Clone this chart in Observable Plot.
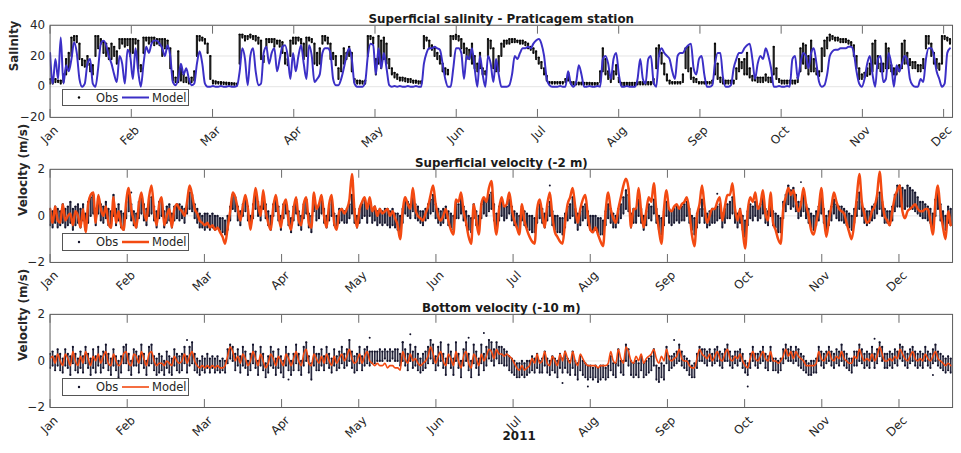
<!DOCTYPE html>
<html><head><meta charset="utf-8">
<script src="https://cdn.jsdelivr.net/npm/d3@7"></script>
<script src="https://cdn.jsdelivr.net/npm/@observablehq/plot@0.6"></script>
<style>
html,body{margin:0;padding:0;background:#fff;overflow:hidden}
#wrap{position:relative;width:961px;height:453px;overflow:hidden;background:#fff;font-family:"DejaVu Sans",sans-serif}
.panel{position:absolute;left:0}
.legend{position:absolute;left:62px;width:127px;background:#fff;border:1px solid #555;box-sizing:border-box}
</style></head><body><div id="wrap"></div>
<script>
const months = ["Jan","Feb","Mar","Apr","May","Jun","Jul","Aug","Sep","Oct","Nov","Dec"];
const monthLen = 30.42;
const titles = ["Superficial salinity - Praticagem station","Superficial velocity (-2 m)","Bottom velocity (-10 m)"];
const yLabels = ["Salinity","Velocity (m/s)","Velocity (m/s)"];
const salTicks = [40,20,0,-20];
const velTicks = [2,0,-2];

// Salinity, daily, model
const salModel = [
22,2,18,5,32,2,14,10,18,29, 22,5,0,2,15,18,2,0,12,28, 30,27,20,15,8,3,20,15,2,24, 20,5,25,10,0,15,26,22,28,30,
30,28,25,20,27,20,3,1,5,15, 8,12,5,1,2,15,23,15,2,0, 0,0.5,0,0,0.5,0,0,0.5,0,0, 0.5,10,25,18,1,20,25,10,1,2,
22,26,15,22,25,10,18,26,27,20, 5,22,10,20,27,15,5,27,20,3, 5,8,22,25,25,22,5,1,1,5, 12,20,25,18,2,0,0,0,3,20,
28,27,8,25,12,22,12,1,0,0.5, 0,0.5,0,0,0.5,0,0,0.5,0,0, 15,22,25,25,26,25,24,15,5,0, 0,12,25,25,22,5,20,18,25,12,
0,20,8,0,20,15,3,18,8,0, 0,0,1,8,20,18,22,25,25,26, 25,28,30,31,28,20,5,1,0,0, 0,0.5,0,0,10,2,0,3,14,8,
0,0,0.5,0,0,0.5,0,18,20,15, 5,18,22,8,0,0,0.5,0,0,0, 5,18,5,2,18,20,3,0,20,25, 22,20,18,10,5,20,22,22,25,27,
28,12,8,18,20,8,0,0,1,15, 22,22,6,0,0,1,12,18,22,22, 25,27,28,18,5,15,20,18,25,20, 12,0,0,0.5,0,0,0.5,0,18,20,
5,15,22,20,12,22,25,15,3,0, 1,8,20,23,24,24,25,25,25,26, 26,22,10,2,0,5,15,20,8,0, 18,20,3,5,22,15,0,14,10,15,
20,18,5,1,0,0,5,3,18,25, 25,20,10,5,0,2,22,25];
// Salinity, daily observed range [low, high]
const salObs = [
[2,5],[2,4],[3,5],[3,4],[2,4],[3,8],[8,18],[12,22],[20,32],[30,33],
[29,33],[18,28],[14,18],[13,17],[14,20],[10,15],[8,14],[20,33],[25,33],[28,31],
[22,29],[20,28],[18,25],[18,28],[20,26],[15,23],[25,31],[28,31],[26,31],[27,31],
[20,31],[22,31],[28,31],[12,30],[10,14],[22,32],[30,32],[28,32],[29,32],[27,32],
[28,31],[27,31],[20,31],[25,31],[25,30],[12,25],[4,10],[3,6],[3,23],[4,12],
[3,8],[3,6],[2,5],[3,6],[4,10],[20,33],[30,33],[30,32],[28,31],[22,28],
[5,20],[2,4],[2,3.5],[2,3],[1.8,3],[1.7,2.8],[1.5,2.6],[1.5,2.5],[1.3,2.4],[1.2,2.2],
[1,2],[15,34],[32,34],[30,33],[31,33],[32,34],[31,33],[30,33],[28,32],[18,30],
[16,20],[25,31],[29,31],[29,31],[26,31],[28,30],[26,30],[22,29],[15,22],[14,18],
[20,30],[28,32],[28,32],[30,32],[28,31],[18,28],[20,32],[30,32],[29,31],[15,28],
[14,22],[15,25],[28,33],[30,33],[28,32],[18,28],[18,22],[14,20],[5,12],[10,20],
[15,25],[18,22],[20,26],[10,22],[3,5],[2,4],[2,4],[2,3.5],[2,4],[20,33],
[31,33],[28,32],[8,18],[15,33],[12,30],[18,32],[15,28],[12,18],[8,12],[6,9],
[5,8],[4,6],[4,6],[3.5,5.5],[3,5],[3,5],[2.5,4],[2.5,4],[2,3.5],[2,3.5],
[25,33],[30,32],[25,30],[24,27],[20,25],[18,22],[15,20],[10,15],[8,12],[8,11],
[20,33],[31,33],[31,34],[30,33],[25,31],[22,28],[18,25],[18,24],[15,28],[12,20],
[10,15],[12,22],[8,12],[8,10],[20,31],[25,30],[12,25],[10,15],[10,20],[20,28],
[26,30],[28,30],[28,31],[29,31],[29,31],[29,30],[28,30],[28,30],[27,29],[25,28],
[24,26],[22,25],[18,23],[15,19],[12,16],[8,12],[4,7],[2,3],[2,3],[2,3],
[2,3],[2,3],[2,3],[3,5],[4,9],[2,3],[1.5,3],[1.5,2.8],[1.5,2.6],[1.5,2.6],
[1.5,2.5],[1.4,2.5],[1.4,2.5],[1.3,2.4],[1.3,2.4],[1.3,2.4],[3,10],[10,25],[8,18],[5,10],
[3,6],[5,10],[8,14],[3,6],[1,2.5],[1,2.5],[1,2.5],[1,2.5],[1,2.5],[1,2.5],
[1.5,3],[1.5,3],[1.5,3],[1.5,3],[1.5,3],[1.5,3],[2,5],[12,25],[20,27],[15,22],
[8,15],[4,8],[2,4],[2,3],[2,3],[2,3],[2,3],[3,8],[12,25],[10,26],
[5,12],[3,6],[3,5],[2,3],[2,3],[2,3],[2,3],[2,3],[2,4],[8,28],
[5,15],[3,6],[2,5],[2,4],[2,4],[2,4],[2,4],[5,12],[10,18],[12,16],
[8,18],[8,22],[6,12],[4,7],[4,6],[3,6],[3,6],[3,6],[4,8],[3,6],
[3,6],[8,26],[5,12],[3,5],[2,4],[2,4],[2,4],[2,4],[2,4],[2,4],
[3,6],[10,25],[15,28],[12,27],[8,20],[10,30],[10,18],[8,12],[7,10],[10,25],
[20,30],[25,32],[30,34],[31,33],[30,32],[30,32],[29,31],[29,31],[29,31],[28,30],
[27,29],[20,27],[12,20],[5,12],[5,8],[6,9],[7,12],[8,15],[10,28],[15,30],
[12,20],[10,15],[10,15],[12,28],[12,25],[10,14],[8,12],[8,12],[10,14],[12,28],
[15,30],[15,22],[14,18],[12,16],[12,16],[10,14],[10,14],[12,18],[25,33],[28,33],
[20,28],[15,22],[12,18],[11,15],[15,33],[31,33],[30,32],[28,31]];

// Surface velocity (-2 m), daily, model
const surfModel = [
0.3,-0.3,0.4,-0.2,-0.3,0.5,-0.2,0.0,0.1,-0.4, 0.2,0.0,-0.5,0.3,-0.7,0.5,0.9,1.0,-0.3,0.9,
0.3,0.0,0.4,-0.3,-0.5,0.8,-0.3,0.2,-0.4,-0.6, 0.6,1.2,0.3,-0.2,-0.5,0.5,1.0,0.2,-0.2,0.8,
1.3,0.2,-0.4,0.5,0.8,-0.4,0.0,0.3,-0.5,0.3, 0.5,0.3,0.2,0.0,0.6,1.3,0.9,0.3,0.1,-0.2,
-0.3,-0.4,-0.3,-0.5,-0.4,-0.6,-0.5,-0.7,-0.9,-1.2, -0.5,0.2,1.0,0.8,0.3,-0.2,0.4,0.9,0.3,-0.6,
0.3,1.2,0.5,0.0,1.1,0.2,-0.3,-0.6,0.4,0.9, 0.1,-0.5,0.4,0.7,-0.2,-0.6,0.3,0.8,-0.2,-0.4,
0.5,0.8,-0.3,-0.5,1.0,0.3,0.5,0.9,0.0,-0.5, 0.5,0.9,-0.3,-0.6,0.2,0.3,0.1,0.3,0.7,1.8,
0.2,-0.5,0.3,0.6,0.8,0.3,0.8,0.2,0.4,0.0, 0.3,0.1,0.2,0.3,0.0,0.2,-0.1,-0.4,-1.0,0.2,
0.8,0.5,0.3,1.2,0.3,0.0,-0.1,-0.2,0.1,0.4, 0.9,1.3,0.5,0.0,-0.2,0.0,0.3,-0.2,-0.6,-0.8,
0.7,0.6,1.0,0.2,-0.3,-0.9,-1.2,0.5,-0.2,-0.8, 0.5,0.8,0.6,1.2,1.5,0.0,-0.8,0.3,0.8,0.4,
0.5,1.0,0.3,-0.2,-0.5,-0.8,0.5,-0.2,-0.6,-0.9, -1.1,-1.2,0.3,0.7,0.1,-0.5,0.5,1.0,0.0,-0.7,
-0.9,-1.1,-1.2,-0.3,0.5,0.8,1.2,0.4,-0.3,0.3, 0.7,0.9,0.0,-0.6,-0.7,-0.5,-0.8,-1.1,-1.3,0.2,
1.0,0.3,-0.1,-0.3,0.3,0.8,1.3,1.6,1.2,-0.5, 0.3,0.3,1.2,0.2,-0.5,0.2,0.8,0.6,1.4,0.2,
-0.6,-1.2,0.3,1.1,0.3,0.2,0.4,0.5,0.3,0.5, 0.6,0.8,0.2,-0.8,-1.3,0.0,0.5,1.3,0.4,-0.3,
0.0,0.3,0.3,0.6,0.8,-0.2,0.4,0.9,0.9,1.4, 0.3,-0.2,0.3,-0.6,-1.4,0.2,0.8,0.6,1.0,0.3,
0.5,1.1,0.1,-0.2,1.0,-0.3,-0.6,-1.0,-1.2,0.3, 0.8,1.2,0.9,1.1,0.6,0.2,0.5,1.2,0.5,0.0,
-0.6,-0.8,-0.3,0.3,1.2,0.0,-0.9,-0.2,0.4,1.0, 0.6,0.3,0.2,0.1,-0.3,-0.7,-1.0,-0.3,0.8,1.8,
0.6,0.1,-0.3,-0.2,0.2,0.4,0.9,1.9,0.7,0.0, -0.2,-0.4,0.2,0.8,1.1,1.3,0.2,-0.1,0.2,0.3,
0.4,0.5,0.3,0.2,0.2,0.3,0.3,-0.2,-0.8,0.6, 1.3,0.2,-0.5,-1.0,0.2,-0.4];
// Surface velocity, daily observed range [low, high]
const surfObs = [
[-0.4,0.3],[-0.5,0.2],[-0.3,0.4],[-0.5,0.3],[-0.4,0.2],[-0.3,0.5],[-0.5,0.3],[-0.4,0.4],[-0.3,0.6],[-0.6,0.3],
[-0.4,0.4],[-0.3,0.5],[-0.5,0.3],[-0.2,0.5],[-0.6,0.1],[-0.3,0.6],[0.0,0.8],[0.1,0.9],[-0.4,0.3],[0.1,0.8],
[-0.2,0.5],[-0.3,0.4],[-0.1,0.6],[-0.4,0.3],[-0.5,0.2],[0.0,0.9],[-0.4,0.3],[-0.2,0.5],[-0.5,0.2],[-0.6,0.1],
[-0.1,0.6],[0.2,0.9],[-0.2,0.5],[-0.4,0.2],[-0.5,0.1],[-0.1,0.6],[0.1,0.8],[-0.2,0.5],[-0.4,0.3],[0.0,0.7],
[0.1,0.8],[-0.2,0.4],[-0.5,0.2],[-0.1,0.6],[0.0,0.7],[-0.5,0.2],[-0.3,0.4],[-0.2,0.5],[-0.5,0.1],[-0.2,0.4],
[-0.1,0.5],[-0.2,0.5],[-0.1,0.4],[-0.3,0.3],[0.1,0.6],[0.3,1.0],[0.2,0.9],[-0.1,0.5],[-0.3,0.3],[-0.5,0.1],
[-0.5,0.0],[-0.6,0.1],[-0.5,0.1],[-0.6,0.0],[-0.5,0.1],[-0.6,0.0],[-0.5,0.0],[-0.6,-0.1],[-0.7,-0.1],[-0.8,-0.2],
[-0.6,0.0],[-0.2,0.4],[0.3,0.9],[0.2,0.8],[-0.2,0.4],[-0.4,0.2],[0.0,0.5],[0.2,0.8],[-0.2,0.4],[-0.5,0.0],
[-0.1,0.5],[0.3,1.0],[0.0,0.6],[-0.2,0.4],[0.3,0.9],[-0.1,0.5],[-0.4,0.2],[-0.6,0.0],[0.0,0.5],[0.2,0.8],
[-0.2,0.4],[-0.6,0.0],[-0.1,0.5],[0.1,0.6],[-0.4,0.2],[-0.7,-0.1],[-0.2,0.4],[0.1,0.7],[-0.4,0.2],[-0.6,0.0],
[-0.1,0.5],[0.1,0.7],[-0.5,0.1],[-0.7,0.0],[0.2,0.8],[-0.2,0.4],[-0.1,0.5],[0.1,0.8],[-0.3,0.3],[-0.5,0.0],
[-0.2,0.5],[0.0,0.7],[-0.4,0.1],[-0.5,0.0],[-0.3,0.3],[-0.2,0.3],[-0.3,0.2],[-0.3,0.3],[-0.1,0.5],[0.1,0.9],
[-0.3,0.3],[-0.5,0.0],[-0.3,0.3],[-0.1,0.5],[0.0,0.7],[-0.3,0.3],[0.0,0.6],[-0.3,0.2],[-0.2,0.4],[-0.4,0.2],
[-0.3,0.3],[-0.4,0.2],[-0.3,0.3],[-0.4,0.3],[-0.5,0.2],[-0.4,0.3],[-0.5,0.1],[-0.6,0.1],[-0.7,0.0],[-0.3,0.3],
[0.1,0.7],[0.0,0.6],[-0.1,0.5],[0.2,0.9],[-0.1,0.5],[-0.2,0.4],[-0.3,0.2],[-0.4,0.2],[-0.2,0.3],[-0.1,0.5],
[0.1,0.7],[0.2,0.9],[-0.1,0.5],[-0.3,0.3],[-0.4,0.2],[-0.3,0.3],[-0.1,0.4],[-0.4,0.2],[-0.5,0.1],[-0.6,0.0],
[-0.1,0.6],[-0.1,0.5],[0.1,0.8],[-0.2,0.4],[-0.4,0.2],[-0.6,0.0],[-0.7,-0.1],[-0.1,0.5],[-0.4,0.2],[-0.6,0.0],
[-0.1,0.5],[0.1,0.7],[0.0,0.6],[0.2,0.9],[0.3,1.0],[-0.2,0.5],[-0.5,0.1],[-0.2,0.4],[0.0,0.6],[-0.2,0.4],
[-0.1,0.4],[0.1,0.7],[-0.2,0.4],[-0.4,0.2],[-0.5,0.1],[-0.6,0.0],[-0.2,0.4],[-0.4,0.2],[-0.5,0.1],[-0.6,0.0],
[-0.7,0.0],[-0.7,-0.1],[-0.3,0.3],[-0.1,0.5],[-0.3,0.3],[-0.5,0.1],[-0.2,0.4],[0.0,0.6],[-0.4,0.2],[-0.6,0.0],
[-0.7,0.0],[-0.7,-0.1],[-0.8,-0.1],[-0.5,0.1],[-0.2,0.4],[-0.1,0.5],[0.0,0.8],[-0.3,0.3],[-0.6,0.1],[-0.4,0.2],
[-0.2,0.4],[-0.1,0.5],[-0.4,0.2],[-0.6,0.0],[-0.7,0.0],[-0.6,0.0],[-0.7,-0.1],[-0.8,-0.1],[-0.8,-0.2],[-0.4,0.2],
[-0.1,0.5],[-0.3,0.3],[-0.5,0.1],[-0.5,0.0],[-0.3,0.3],[-0.1,0.5],[0.1,0.8],[0.3,1.1],[0.2,0.9],[-0.5,0.1],
[-0.3,0.3],[-0.3,0.3],[0.0,0.7],[-0.3,0.3],[-0.6,0.0],[-0.4,0.2],[-0.1,0.5],[-0.2,0.4],[0.1,0.7],[-0.3,0.3],
[-0.6,0.0],[-0.8,-0.1],[-0.4,0.2],[0.0,0.6],[-0.3,0.3],[-0.4,0.2],[-0.3,0.3],[-0.2,0.4],[-0.3,0.3],[-0.2,0.4],
[-0.2,0.5],[0.0,0.6],[-0.3,0.3],[-0.6,0.0],[-0.8,-0.1],[-0.5,0.1],[-0.3,0.3],[0.0,0.7],[-0.3,0.3],[-0.5,0.1],
[-0.4,0.2],[-0.3,0.3],[-0.3,0.3],[-0.2,0.4],[-0.1,0.5],[-0.5,0.1],[-0.3,0.3],[-0.1,0.5],[-0.1,0.6],[0.1,0.8],
[-0.3,0.3],[-0.5,0.1],[-0.3,0.3],[-0.6,0.0],[-0.9,-0.2],[-0.4,0.2],[-0.1,0.5],[-0.2,0.4],[0.0,0.6],[-0.2,0.4],
[-0.1,0.5],[0.1,0.8],[-0.3,0.3],[-0.4,0.2],[0.0,0.6],[-0.4,0.2],[-0.5,0.1],[-0.7,0.0],[-0.7,-0.1],[-0.1,0.6],
[0.2,0.9],[0.5,1.3],[0.3,1.1],[0.4,1.2],[0.2,0.9],[-0.1,0.6],[0.0,0.6],[0.2,0.9],[-0.1,0.5],[-0.3,0.3],
[-0.5,0.1],[-0.6,0.0],[-0.4,0.2],[-0.2,0.4],[0.1,0.8],[-0.3,0.3],[-0.6,0.0],[-0.4,0.2],[-0.2,0.4],[0.1,0.7],
[-0.1,0.5],[-0.2,0.4],[-0.2,0.4],[-0.3,0.3],[-0.4,0.2],[-0.5,0.1],[-0.6,0.0],[-0.3,0.3],[0.0,0.6],[0.3,1.0],
[0.0,0.6],[-0.3,0.3],[-0.4,0.2],[-0.3,0.2],[-0.2,0.4],[-0.1,0.5],[0.1,0.8],[0.3,1.0],[0.0,0.6],[-0.3,0.3],
[-0.3,0.2],[-0.4,0.2],[-0.2,0.4],[0.2,0.9],[0.4,1.3],[0.4,1.3],[0.3,1.2],[0.3,1.1],[0.4,1.3],[0.3,1.2],
[0.3,1.1],[0.2,1.0],[0.1,0.8],[0.0,0.6],[-0.1,0.6],[-0.1,0.5],[-0.2,0.4],[-0.3,0.3],[-0.5,0.1],[0.0,0.7],
[0.3,1.1],[-0.2,0.5],[-0.4,0.2],[-0.6,0.0],[-0.3,0.4],[-0.4,0.3]];
const surfOutliers = [[197,1.3],[296,1.45],[228,1.15],[263,0.95],[32,1.0]];

// Bottom velocity (-10 m), daily, model
const botModel = [
0.1,0.2,-0.1,0.3,0.0,-0.2,0.3,0.1,-0.2,0.4, 0.0,-0.2,0.2,-0.1,0.4,0.1,-0.2,0.2,0.0,0.3,
-0.1,0.2,0.4,-0.1,-0.2,0.3,0.0,-0.2,-0.1,0.3, 0.4,-0.1,-0.2,0.3,0.2,-0.1,0.4,0.1,-0.2,0.3,
0.4,0.0,-0.2,-0.1,-0.1,-0.2,0.0,-0.1,-0.2,0.2, 0.0,-0.1,0.0,0.3,-0.1,0.2,0.4,0.0,-0.2,-0.3,
-0.2,-0.3,-0.2,-0.3,-0.2,-0.3,-0.2,-0.3,-0.3,-0.2, 0.2,0.6,0.4,0.0,0.2,-0.1,0.3,0.1,-0.2,0.0,
0.4,0.1,-0.2,0.3,0.0,-0.3,-0.1,0.3,0.1,-0.2, 0.2,0.0,-0.2,0.3,0.1,-0.2,0.1,0.4,0.0,-0.2,
0.3,0.5,-0.1,-0.2,0.3,0.1,-0.1,0.2,-0.1,0.3, 0.0,-0.2,0.2,-0.1,0.1,0.3,0.0,0.2,0.5,0.1,
-0.1,0.0,0.3,-0.1,0.2,0.4,0.0,-0.1,-0.2,-0.1, -0.2,-0.2,-0.1,-0.3,-0.2,-0.2,-0.3,-0.3,-0.4,0.4,
0.1,-0.1,0.3,0.0,0.1,-0.1,-0.2,-0.1,0.0,0.2, 0.6,0.3,-0.1,0.2,0.4,0.0,-0.2,0.3,0.1,-0.2,
0.4,0.0,-0.3,0.2,0.4,-0.1,-0.3,0.3,0.1,-0.2, 0.3,0.0,0.2,0.5,0.4,0.1,0.5,0.3,0.3,0.2,
0.3,0.2,0.1,-0.1,-0.3,-0.4,-0.2,-0.4,-0.3,-0.2, 0.1,-0.1,0.3,-0.1,0.0,0.4,-0.1,-0.2,0.2,0.0,
-0.2,0.3,0.0,0.4,0.1,-0.1,0.4,0.0,-0.2,0.3, 0.1,-0.1,-0.2,-0.2,-0.2,-0.2,-0.3,-0.2,-0.2,-0.2,
-0.1,0.4,0.0,-0.1,0.5,0.1,-0.1,0.6,0.4,0.0, -0.1,0.2,0.0,0.3,-0.1,0.1,0.2,0.3,0.5,0.1,
-0.1,0.2,0.0,0.5,0.1,0.0,0.1,0.2,0.5,0.1, 0.0,0.0,-0.2,-0.3,-0.3,0.1,0.5,0.3,0.2,0.1,
0.3,0.0,0.2,0.4,0.1,0.0,0.3,0.5,0.1,0.0, 0.2,0.1,0.3,0.0,-0.2,-0.3,0.1,0.4,0.1,0.0,
0.2,0.4,0.1,0.0,0.4,0.0,0.0,-0.1,0.0,0.2, 0.5,0.2,0.4,0.1,0.4,0.2,0.1,0.0,-0.2,-0.2,
-0.2,-0.2,-0.1,0.4,0.1,0.0,0.2,0.4,0.1,0.0, 0.2,0.1,0.4,0.1,0.0,-0.1,-0.1,0.2,0.1,0.5,
0.2,0.0,0.1,0.0,0.3,0.0,0.2,0.6,0.3,0.0, 0.0,0.1,0.0,0.2,0.1,0.5,0.3,0.1,0.0,0.2,
0.4,0.1,0.0,0.1,0.0,0.3,0.1,0.0,0.2,0.4, 0.1,0.0,-0.1,-0.2,-0.1,-0.2];
// Bottom velocity, daily observed range [low, high]
const botObs = [
[-0.3,0.3],[-0.2,0.4],[-0.4,0.2],[-0.2,0.5],[-0.4,0.3],[-0.5,0.1],[-0.2,0.5],[-0.3,0.3],[-0.6,0.2],[-0.1,0.6],
[-0.4,0.3],[-0.5,0.1],[-0.3,0.4],[-0.5,0.2],[-0.1,0.6],[-0.3,0.3],[-0.6,0.1],[-0.3,0.5],[-0.5,0.2],[-0.2,0.6],
[-0.5,0.2],[-0.3,0.4],[-0.1,0.7],[-0.4,0.3],[-0.6,0.1],[-0.2,0.5],[-0.4,0.2],[-0.7,0.0],[-0.5,0.2],[-0.1,0.6],
[-0.1,0.7],[-0.4,0.3],[-0.6,0.0],[-0.2,0.5],[-0.2,0.4],[-0.5,0.2],[-0.1,0.7],[-0.3,0.3],[-0.6,0.0],[-0.2,0.6],
[-0.1,0.7],[-0.4,0.2],[-0.6,0.1],[-0.5,0.3],[-0.4,0.2],[-0.6,0.0],[-0.3,0.4],[-0.5,0.2],[-0.6,0.1],[-0.2,0.5],
[-0.4,0.3],[-0.5,0.2],[-0.4,0.3],[-0.1,0.6],[-0.5,0.2],[-0.2,0.6],[-0.1,0.8],[-0.4,0.3],[-0.5,0.1],[-0.6,0.0],
[-0.4,0.2],[-0.5,0.1],[-0.3,0.3],[-0.5,0.1],[-0.3,0.2],[-0.5,0.1],[-0.4,0.2],[-0.5,0.0],[-0.4,0.1],[-0.5,0.0],
[-0.1,0.5],[0.1,0.7],[0.0,0.6],[-0.4,0.3],[-0.2,0.5],[-0.5,0.2],[-0.2,0.6],[-0.3,0.4],[-0.6,0.0],[-0.4,0.3],
[-0.1,0.7],[-0.3,0.4],[-0.6,0.0],[-0.2,0.6],[-0.4,0.3],[-0.7,-0.1],[-0.5,0.2],[-0.2,0.6],[-0.3,0.4],[-0.6,0.1],
[-0.3,0.5],[-0.5,0.2],[-0.7,0.0],[-0.2,0.6],[-0.4,0.3],[-0.6,0.0],[-0.4,0.3],[-0.1,0.7],[-0.4,0.3],[-0.6,0.0],
[-0.2,0.6],[0.0,0.8],[-0.5,0.2],[-0.8,-0.1],[-0.2,0.6],[-0.4,0.3],[-0.4,0.3],[-0.2,0.5],[-0.4,0.2],[-0.1,0.6],
[-0.3,0.3],[-0.5,0.1],[-0.2,0.5],[-0.4,0.2],[-0.3,0.4],[-0.1,0.6],[-0.3,0.3],[-0.2,0.5],[0.0,0.9],[-0.3,0.4],
[-0.5,0.2],[-0.4,0.3],[-0.1,0.6],[-0.4,0.2],[-0.2,0.5],[-0.1,0.6],[-0.2,0.4],[-0.1,0.4],[-0.1,0.4],[0.0,0.4],
[0.0,0.5],[0.0,0.4],[0.1,0.5],[0.0,0.4],[0.0,0.5],[0.1,0.4],[0.0,0.5],[0.0,0.5],[-0.2,0.3],[0.0,0.8],
[-0.2,0.5],[-0.4,0.3],[0.0,0.7],[-0.3,0.4],[-0.2,0.6],[-0.4,0.3],[-0.5,0.1],[-0.4,0.3],[-0.3,0.4],[-0.1,0.6],
[0.1,0.9],[-0.1,0.7],[-0.4,0.2],[-0.2,0.6],[0.0,0.8],[-0.3,0.3],[-0.6,0.1],[-0.1,0.7],[-0.3,0.4],[-0.6,0.1],
[0.0,0.8],[-0.3,0.3],[-0.7,0.0],[-0.2,0.5],[0.0,0.8],[-0.4,0.3],[-0.7,0.0],[-0.1,0.7],[-0.3,0.4],[-0.6,0.1],
[-0.1,0.7],[-0.4,0.3],[-0.2,0.6],[0.1,0.9],[0.0,0.8],[-0.2,0.5],[0.1,0.8],[-0.1,0.6],[-0.1,0.6],[-0.2,0.5],
[-0.2,0.4],[-0.4,0.2],[-0.5,0.1],[-0.6,0.0],[-0.7,-0.1],[-0.7,-0.1],[-0.6,0.0],[-0.7,-0.1],[-0.6,0.0],[-0.5,0.0],
[-0.4,0.2],[-0.5,0.1],[-0.3,0.3],[-0.5,0.0],[-0.5,0.1],[-0.2,0.4],[-0.5,0.1],[-0.6,0.0],[-0.4,0.2],[-0.5,0.1],
[-0.7,0.0],[-0.3,0.3],[-0.5,0.1],[-0.3,0.4],[-0.5,0.1],[-0.6,0.0],[-0.3,0.4],[-0.6,0.0],[-0.8,-0.1],[-0.4,0.2],
[-0.6,0.0],[-0.7,-0.1],[-0.8,-0.2],[-0.7,-0.2],[-0.8,-0.3],[-0.7,-0.2],[-0.9,-0.3],[-0.8,-0.2],[-0.7,-0.2],[-0.8,-0.3],
[-0.7,-0.2],[-0.4,0.2],[-0.6,-0.1],[-0.7,-0.1],[-0.2,0.5],[-0.5,0.0],[-0.6,0.0],[0.0,0.7],[-0.2,0.5],[-0.6,0.0],
[-0.7,-0.1],[-0.6,0.0],[-0.7,-0.1],[-0.4,0.2],[-0.7,-0.1],[-0.6,0.0],[-0.5,0.1],[-0.4,0.2],[-0.2,0.5],[-0.8,-0.2],
[-0.9,-0.3],[-0.7,-0.1],[-0.8,-0.2],[-0.1,0.6],[-0.4,0.2],[-0.3,0.2],[-0.2,0.3],[-0.1,0.4],[0.0,0.7],[-0.2,0.4],
[-0.3,0.2],[-0.4,0.1],[-0.6,0.0],[-0.7,-0.2],[-0.7,-0.1],[-0.3,0.3],[0.0,0.6],[0.0,0.5],[-0.1,0.5],[-0.2,0.4],
[0.0,0.5],[-0.2,0.3],[-0.1,0.5],[0.0,0.6],[-0.2,0.4],[-0.3,0.3],[0.0,0.5],[0.0,0.7],[-0.2,0.4],[-0.3,0.2],
[-0.1,0.4],[-0.2,0.4],[0.0,0.5],[-0.3,0.3],[-0.5,0.0],[-0.6,-0.1],[-0.3,0.3],[0.0,0.6],[-0.2,0.3],[-0.3,0.3],
[-0.1,0.4],[0.0,0.6],[-0.3,0.3],[-0.4,0.2],[0.0,0.6],[-0.4,0.1],[-0.4,0.1],[-0.5,0.0],[-0.4,0.1],[-0.1,0.5],
[0.1,0.7],[0.0,0.5],[0.0,0.6],[-0.1,0.4],[0.0,0.6],[-0.2,0.5],[-0.3,0.3],[-0.4,0.2],[-0.5,0.0],[-0.6,-0.1],
[-0.6,0.0],[-0.5,0.0],[-0.5,0.1],[0.0,0.6],[-0.2,0.4],[-0.3,0.3],[-0.1,0.4],[0.0,0.6],[-0.2,0.4],[-0.3,0.3],
[-0.1,0.5],[-0.2,0.4],[0.0,0.7],[-0.2,0.4],[-0.3,0.3],[-0.4,0.1],[-0.5,0.1],[-0.2,0.4],[-0.2,0.4],[0.0,0.7],
[-0.1,0.5],[-0.3,0.3],[-0.2,0.4],[-0.3,0.3],[0.0,0.6],[-0.3,0.3],[-0.1,0.5],[0.2,0.8],[0.0,0.6],[-0.3,0.3],
[-0.3,0.3],[-0.2,0.4],[-0.3,0.3],[-0.1,0.5],[-0.2,0.4],[0.1,0.7],[0.0,0.6],[-0.2,0.4],[-0.3,0.3],[-0.1,0.5],
[0.0,0.6],[-0.2,0.4],[-0.3,0.3],[-0.2,0.4],[-0.3,0.3],[0.0,0.6],[-0.2,0.4],[-0.3,0.3],[-0.1,0.5],[0.0,0.7],
[-0.2,0.4],[-0.3,0.3],[-0.4,0.2],[-0.5,0.1],[-0.4,0.2],[-0.5,0.1]];
const botOutliers = [[54,0.9],[139,0.8],[142,1.15],[126,1.0],[165,1.0],[171,1.2],[202,-0.95],[212,-1.1],[275,-1.1],[325,0.95],[348,-0.6],[94,-0.8],[246,0.9]];

const blue = "#3b2fc6";
const orange = "#f34a12";
const monthTicks = months.map((m, i) => i * monthLen);
const wrap = document.getElementById("wrap");

function panel(o) {
  const modelRows = o.model.map((v, i) => ({d: i, v}));
  const obsRows = o.obs.map(([lo, hi], i) => ({d: i, lo, hi}));
  const outRows = (o.outliers || []).map(([d, v]) => ({d, v}));
  const svg = Plot.plot({
    width: 970, height: o.height,
    marginLeft: 50, marginRight: 9, marginTop: o.mt, marginBottom: o.mb,
    style: {fontFamily: '"DejaVu Sans", sans-serif', fontSize: "12px", color: "#262626", background: "transparent", overflow: "visible"},
    x: {domain: [0, o.xmax], label: null},
    y: {domain: o.yDomain, label: null},
    marks: [
      Plot.ruleY(o.yTicks, {stroke: "#e4e4e4"}),
      Plot.ruleX(obsRows, {x: "d", y1: "lo", y2: "hi", stroke: o.obsColor, strokeWidth: o.obsW, strokeOpacity: 0.9, clip: true}),
      Plot.dot(obsRows, {x: "d", y: "lo", r: 1.1, fill: o.obsColor, clip: true}),
      Plot.dot(obsRows, {x: "d", y: "hi", r: 1.1, fill: o.obsColor, clip: true}),
      Plot.dot(outRows, {x: "d", y: "v", r: 1, fill: o.obsColor, clip: true}),
      Plot.line(modelRows, {x: "d", y: "v", stroke: o.color, strokeWidth: o.lw, curve: "monotone-x", clip: true}),
      Plot.frame({stroke: "#5a5a5a"}),
      Plot.axisX(monthTicks, {anchor: "bottom", tickSize: -8, tickFormat: () => "", stroke: "#6a6a6a"}),
      Plot.axisX(monthTicks, {anchor: "top", tickSize: -8, tickFormat: () => "", stroke: "#6a6a6a"}),
      Plot.axisX(monthTicks, {anchor: "bottom", tickSize: 0, tickPadding: 6, tickRotate: -45, dx: 6, dy: 5,
        tickFormat: d => months[Math.round(d / monthLen)], fill: "#262626", fontSize: 12}),
      Plot.axisY(o.yTicks, {anchor: "left", tickSize: 0, tickPadding: 5, fontSize: 12, fill: "#262626", label: null}),
      Plot.text([o.yLabel], {text: d => d, frameAnchor: "left", dx: o.yLabelDx, rotate: -90, fontWeight: "bold", fontSize: 12, fill: "#262626"}),
      Plot.text([o.title], {text: d => d, frameAnchor: "top", dy: -2, lineAnchor: "bottom", fontWeight: "bold", fontSize: 12, fill: "#1a1a1a"}),
      ...(o.extra || [])
    ]
  });
  svg.classList.add("panel");
  svg.style.top = o.top + "px";
  wrap.appendChild(svg);

  const lg = document.createElement("div");
  lg.className = "legend";
  lg.style.top = o.lgTop + "px";
  lg.style.height = o.lgH + "px";
  const cy = o.lgH / 2;
  lg.innerHTML = `<svg width="127" height="${o.lgH}" style="position:absolute;left:-1px;top:-1px;overflow:visible;font-family:'DejaVu Sans',sans-serif">
    <circle cx="17" cy="${cy}" r="1.2" fill="${o.obsColor}"/>
    <text x="34" y="${cy}" dy="0.36em" font-size="11.5" fill="#262626">Obs</text>
    <line x1="60" x2="87" y1="${cy}" y2="${cy}" stroke="${o.color}" stroke-width="${o.lw}"/>
    <text x="90" y="${cy}" dy="0.36em" font-size="11.5" fill="#262626">Model</text></svg>`;
  wrap.appendChild(lg);
}

panel({top: 0, height: 150, mt: 25, mb: 32, xmax: 911 / (82 / monthLen),
  model: salModel, obs: salObs, color: blue, lw: 2, obsColor: "#050505", obsW: 2.2,
  yDomain: [-20, 40], yTicks: salTicks, yLabel: yLabels[0], yLabelDx: -36, title: titles[0],
  lgTop: 89, lgH: 17});
panel({top: 150, height: 150, mt: 19, mb: 37, xmax: 911 / (77.9 / monthLen),
  model: surfModel, obs: surfObs, outliers: surfOutliers, color: orange, lw: 2.5, obsColor: "#12122a", obsW: 2.1,
  yDomain: [-2, 2], yTicks: velTicks, yLabel: yLabels[1], yLabelDx: -27, title: titles[1],
  lgTop: 233, lgH: 18});
panel({top: 300, height: 153, mt: 14, mb: 45, xmax: 911 / (77.9 / monthLen),
  model: botModel, obs: botObs, outliers: botOutliers, color: orange, lw: 1.6, obsColor: "#12122a", obsW: 1.7,
  yDomain: [-2, 2], yTicks: velTicks, yLabel: yLabels[2], yLabelDx: -27, title: titles[2],
  lgTop: 378, lgH: 18,
  extra: [Plot.text(["2011"], {text: d => d, frameAnchor: "bottom", dx: 18, dy: 33, fontWeight: "bold", fontSize: 12, fill: "#1a1a1a"})]});
</script>
</body></html>
